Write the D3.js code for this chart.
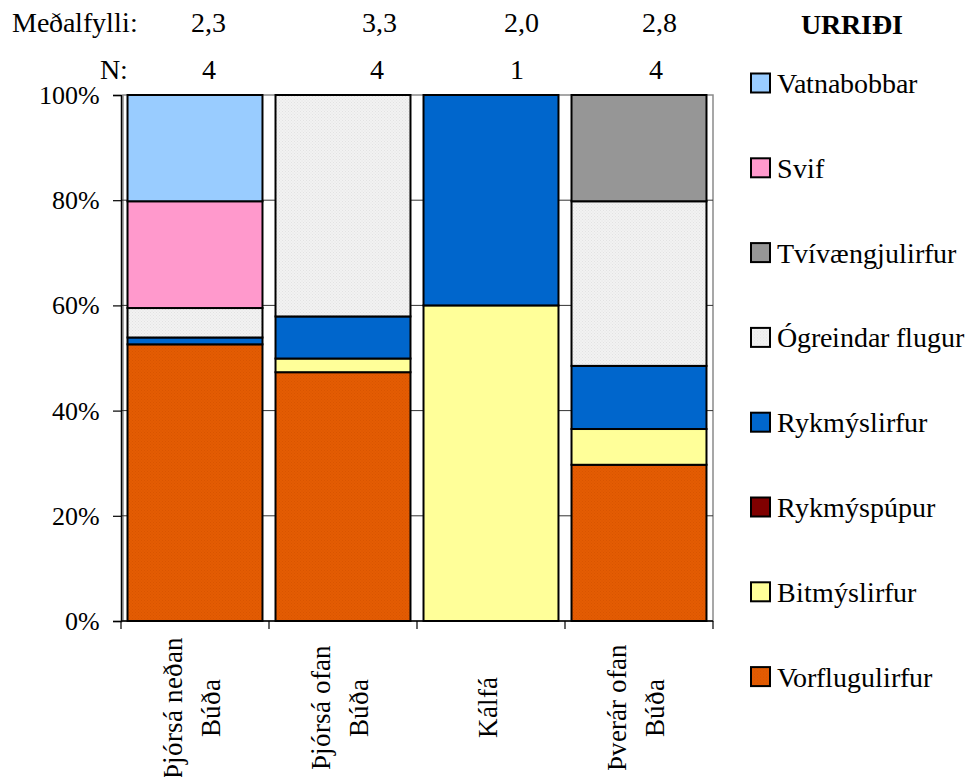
<!DOCTYPE html>
<html>
<head>
<meta charset="utf-8">
<script src="https://cdn.jsdelivr.net/npm/d3@7"></script>
<style>
  @font-face { font-family: 'ChartSerif'; font-weight: 400; font-style: normal;
    src: local('Liberation Serif'), local('LiberationSerif'), local('Liberation Serif Regular'), local('LiberationSerif-Regular'); }
  @font-face { font-family: 'ChartSerif'; font-weight: 700; font-style: normal;
    src: local('Liberation Serif Bold'), local('LiberationSerif-Bold'); }
</style>
</head>
<body style="margin:0">
<script>
// ---------------- data ----------------
const categories = ["Þjórsá neðan\nBúða", "Þjórsá ofan\nBúða", "Kálfá", "Þverár ofan\nBúða"];
// stacking order: bottom -> top
const seriesNames = ["Vorflugulirfur", "Bitmýslirfur", "Rykmýspúpur", "Rykmýslirfur",
                     "Ógreindar flugur", "Tvívængjulirfur", "Svif", "Vatnabobbar"];
const vorflugulirfur  = [52.6, 47.3,  0.0, 29.7];
const bitmyslirfur    = [ 0.0,  2.6, 60.0,  6.8];
const rykmyspupur     = [ 0.0,  0.0,  0.0,  0.0];
const rykmyslirfur    = [ 1.3,  8.0, 40.0, 12.0];
const ogreindarFlugur = [ 5.6, 42.1,  0.0, 31.3];
const tvivaengjulirfur= [ 0.0,  0.0,  0.0, 20.2];
const svif            = [20.3,  0.0,  0.0,  0.0];
const vatnabobbar     = [20.2,  0.0,  0.0,  0.0];
const medalfylli = ["2,3", "3,3", "2,0", "2,8"];
const nValues    = ["4", "4", "1", "4"];
const yTicks     = [0, 20, 40, 60, 80, 100];
const title      = "URRIÐI";

// ---------------- styles / layout ----------------
const colors = ["#E35B04", "#FFFF99", "#800000", "#0066CC", "#EFEFEF", "#969696", "#FF99CC", "#99CCFF"];
const W = 974, H = 777;
const plot = { left: 121, right: 713, top: 95, bottom: 621 };
const headerX = { medal: [208, 379, 521, 659], n: [209, 377, 517, 656] };
const fontSize = 28;
const tickFontSize = 26;
const catFontSize = 26.5;
const FONT = "'ChartSerif', 'Liberation Serif', serif";

const allSeries = [vorflugulirfur, bitmyslirfur, rykmyspupur, rykmyslirfur,
                   ogreindarFlugur, tvivaengjulirfur, svif, vatnabobbar];
const table = categories.map((c, i) => {
  const row = { cat: c };
  seriesNames.forEach((s, k) => row[s] = allSeries[k][i]);
  return row;
});

const svg = d3.select("body").append("svg").attr("width", W).attr("height", H)
  .style("display", "block");
function serif(sel) { return sel.style("font-family", FONT); }

const x = d3.scaleBand().domain(categories).range([plot.left, plot.right])
  .paddingInner(0.088).paddingOuter(0.044);
const y = d3.scaleLinear().domain([0, 100]).range([plot.bottom, plot.top]);
const color = d3.scaleOrdinal().domain(seriesNames).range(colors);

// patterns for textured fills
const defs = svg.append("defs");
function dotPattern(id, base, dot) {
  const p = defs.append("pattern").attr("id", id).attr("patternUnits", "userSpaceOnUse")
    .attr("width", 3).attr("height", 3);
  p.append("rect").attr("width", 3).attr("height", 3).attr("fill", base);
  p.append("rect").attr("width", 1).attr("height", 1).attr("fill", dot);
  p.append("rect").attr("x", 1.5).attr("y", 1.5).attr("width", 1).attr("height", 1).attr("fill", dot);
}
dotPattern("patOrange", "#E45C02", "#D85400");
dotPattern("patGrey", "#F2F2F2", "#E2E2E2");
const fillFor = s => s === "Vorflugulirfur" ? "url(#patOrange)" : s === "Ógreindar flugur" ? "url(#patGrey)" : color(s);

// plot-area frame (grey)
svg.append("rect").attr("x", plot.left + 2).attr("y", plot.top)
  .attr("width", plot.right - plot.left - 2).attr("height", plot.bottom - plot.top)
  .attr("fill", "none").attr("stroke", "#8a8a8a").attr("stroke-width", 1.5);

// gridlines
svg.append("g").selectAll("line").data(yTicks.filter(t => t > 0 && t < 100)).join("line")
  .attr("x1", plot.left).attr("x2", plot.right)
  .attr("y1", d => y(d)).attr("y2", d => y(d))
  .attr("stroke", "#333").attr("stroke-width", 1);

// stacked bars
const stack = d3.stack().keys(seriesNames)(table);
svg.append("g").selectAll("g").data(stack).join("g")
  .attr("fill", d => fillFor(d.key))
  .selectAll("rect").data(d => d.filter(v => v[1] - v[0] > 0)).join("rect")
  .attr("x", d => x(d.data.cat))
  .attr("width", x.bandwidth())
  .attr("y", d => y(d[1]))
  .attr("height", d => y(d[0]) - y(d[1]))
  .attr("stroke", "#000").attr("stroke-width", 2);

// y axis
const yAxis = svg.append("g").attr("transform", `translate(${plot.left},0)`)
  .call(d3.axisLeft(y).tickValues(yTicks).tickFormat(d => d + "%").tickSize(8).tickPadding(13));
yAxis.attr("font-family", null).attr("font-size", null);
yAxis.select(".domain").attr("stroke", "#000").attr("stroke-width", 1.5);
yAxis.selectAll(".tick line").attr("stroke", "#000").attr("stroke-width", 1.2);
serif(yAxis.selectAll(".tick text")).attr("font-size", tickFontSize)
  .attr("fill", "#000").attr("dy", "0.33em");

// x axis baseline + boundary ticks
svg.append("line").attr("x1", plot.left).attr("x2", plot.right)
  .attr("y1", plot.bottom).attr("y2", plot.bottom).attr("stroke", "#000").attr("stroke-width", 1.5);
const boundaries = d3.range(categories.length + 1).map(i => plot.left + i * x.step());
svg.append("g").selectAll("line").data(boundaries).join("line")
  .attr("x1", d => d).attr("x2", d => d)
  .attr("y1", plot.bottom).attr("y2", plot.bottom + 8)
  .attr("stroke", "#000").attr("stroke-width", 1.2);

// category labels (rotated)
const lineGap = 38;
serif(svg.append("g").selectAll("text").data(categories).join("text"))
  .attr("transform", d => `translate(${x(d) + x.bandwidth() / 2 + 6},707.5) rotate(-90)`)
  .attr("text-anchor", "middle").attr("font-size", catFontSize)
  .each(function (d) {
    const lines = d.split("\n");
    const t = d3.select(this);
    lines.forEach((ln, i) => {
      t.append("tspan").attr("x", 0).attr("y", (i - (lines.length - 1) / 2) * lineGap).text(ln);
    });
  });

// header labels
serif(svg.append("text")).attr("x", 12).attr("y", 32).attr("font-size", fontSize).text("Meðalfylli:");
serif(svg.append("text")).attr("x", 128).attr("y", 79).attr("font-size", fontSize)
  .attr("text-anchor", "end").text("N:");
serif(svg.append("g").selectAll("text").data(medalfylli).join("text"))
  .attr("x", (d, i) => headerX.medal[i]).attr("y", 32).attr("text-anchor", "middle")
  .attr("font-size", fontSize).text(d => d);
serif(svg.append("g").selectAll("text").data(nValues).join("text"))
  .attr("x", (d, i) => headerX.n[i]).attr("y", 79).attr("text-anchor", "middle")
  .attr("font-size", fontSize).text(d => d);
serif(svg.append("text")).attr("x", 801).attr("y", 34).attr("font-size", fontSize)
  .attr("font-weight", "bold").text(title);

// legend (top -> bottom is reverse stacking order)
const legendItems = seriesNames.slice().reverse();
const lg = svg.append("g").selectAll("g").data(legendItems).join("g")
  .attr("transform", (d, i) => `translate(751,${83 + i * 84.8})`);
lg.append("rect").attr("x", 0).attr("y", -9.5).attr("width", 19).attr("height", 19)
  .attr("fill", d => fillFor(d)).attr("stroke", "#000").attr("stroke-width", 2);
serif(lg.append("text")).attr("x", 26).attr("y", 10).attr("font-size", fontSize).text(d => d);
</script>
</body>
</html>
